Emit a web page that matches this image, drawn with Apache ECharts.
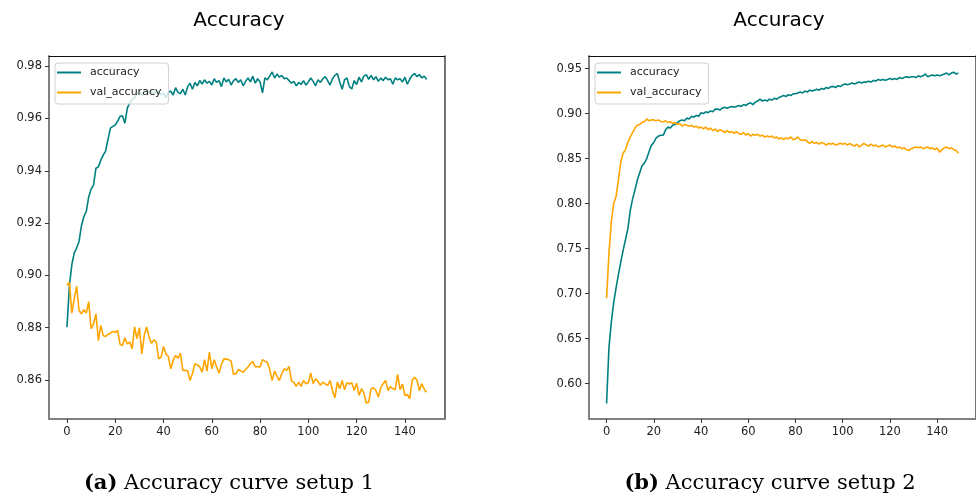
<!DOCTYPE html>
<html><head><meta charset="utf-8">
<script src="https://cdn.jsdelivr.net/npm/echarts@6/dist/echarts.min.js"></script>
<style>html,body{margin:0;padding:0;background:#fff}#c{width:976px;height:500px}</style>
</head><body><div id="c"></div>
<script>
const xTicks = [0, 20, 40, 60, 80, 100, 120, 140];
const yTicks1 = [0.86, 0.88, 0.90, 0.92, 0.94, 0.96, 0.98];
const yTicks2 = [0.60, 0.65, 0.70, 0.75, 0.80, 0.85, 0.90, 0.95];
const seriesNames = ['accuracy', 'val_accuracy'];
const titles = ['Accuracy', 'Accuracy'];
const captions = [['(a)', ' Accuracy curve setup 1'], ['(b)', ' Accuracy curve setup 2']];

const acc1 = [0.8802,0.8960,0.9040,0.9085,0.9105,0.9130,0.9190,0.9225,0.9245,0.9300,
0.9330,0.9345,0.9410,0.9415,0.9440,0.9460,0.9475,0.9520,0.9563,0.9570,
0.9575,0.9590,0.9608,0.9610,0.9582,0.9640,0.9660,0.9672,0.9680,0.9695,
0.9700,0.9688,0.9705,0.9712,0.9698,0.9705,0.9690,0.9708,0.9702,0.9690,
0.9698,0.9680,0.9700,0.9705,0.9690,0.9718,0.9700,0.9695,0.9712,0.9690,
0.9722,0.9735,0.9712,0.9738,0.9725,0.9745,0.9732,0.9748,0.9735,0.9742,
0.9728,0.9752,0.9738,0.9745,0.9722,0.9755,0.9740,0.9750,0.9728,0.9745,
0.9752,0.9738,0.9748,0.9725,0.9742,0.9755,0.9740,0.9762,0.9735,0.9752,
0.9740,0.9698,0.9755,0.9748,0.9762,0.9778,0.9755,0.9770,0.9758,0.9765,
0.9752,0.9755,0.9745,0.9735,0.9742,0.9725,0.9738,0.9730,0.9745,0.9728,
0.9740,0.9755,0.9742,0.9725,0.9748,0.9738,0.9752,0.9760,0.9745,0.9728,
0.9752,0.9765,0.9772,0.9740,0.9712,0.9748,0.9755,0.9722,0.9713,0.9745,
0.9730,0.9758,0.9740,0.9762,0.9768,0.9750,0.9765,0.9748,0.9760,0.9742,
0.9755,0.9745,0.9758,0.9748,0.9752,0.9731,0.9755,0.9748,0.9752,0.9740,
0.9758,0.9731,0.9750,0.9765,0.9772,0.9760,0.9768,0.9755,0.9762,0.9749];

const val1 = [0.8962,0.8974,0.8856,0.8910,0.8958,0.8866,0.8853,0.8869,0.8856,0.8900,
0.8796,0.8815,0.8853,0.8751,0.8809,0.8770,0.8766,0.8775,0.8779,0.8786,
0.8782,0.8790,0.8736,0.8732,0.8762,0.8738,0.8745,0.8720,0.8803,0.8758,
0.8800,0.8700,0.8770,0.8803,0.8765,0.8740,0.8754,0.8745,0.8681,0.8688,
0.8728,0.8700,0.8690,0.8643,0.8675,0.8694,0.8683,0.8703,0.8637,0.8637,
0.8635,0.8598,0.8625,0.8662,0.8658,0.8650,0.8630,0.8678,0.8634,0.8707,
0.8643,0.8678,0.8650,0.8627,0.8660,0.8681,0.8680,0.8678,0.8672,0.8622,
0.8624,0.8640,0.8635,0.8630,0.8640,0.8650,0.8662,0.8672,0.8650,0.8652,
0.8650,0.8678,0.8672,0.8668,0.8640,0.8598,0.8634,0.8615,0.8598,0.8625,
0.8643,0.8637,0.8652,0.8598,0.8590,0.8576,0.8592,0.8576,0.8598,0.8586,
0.8590,0.8627,0.8586,0.8605,0.8595,0.8580,0.8592,0.8585,0.8580,0.8598,
0.8560,0.8532,0.8592,0.8567,0.8598,0.8563,0.8590,0.8585,0.8590,0.8560,
0.8588,0.8541,0.8567,0.8550,0.8512,0.8515,0.8567,0.8570,0.8560,0.8535,
0.8570,0.8586,0.8598,0.8560,0.8575,0.8567,0.8563,0.8622,0.8563,0.8585,
0.8541,0.8545,0.8528,0.8598,0.8611,0.8600,0.8559,0.8586,0.8565,0.8553];

const acc2 = [0.578,0.640,0.668,0.690,0.706,0.721,0.735,0.748,0.760,0.772,
0.792,0.805,0.815,0.826,0.834,0.842,0.845,0.850,0.858,0.865,
0.868,0.873,0.875,0.876,0.876,0.882,0.885,0.884,0.887,0.888,
0.890,0.892,0.893,0.892,0.895,0.894,0.897,0.896,0.898,0.897,
0.901,0.900,0.902,0.901,0.903,0.902,0.905,0.905,0.904,0.906,
0.907,0.906,0.907,0.908,0.907,0.908,0.909,0.908,0.910,0.909,
0.911,0.912,0.910,0.913,0.914,0.916,0.914,0.915,0.914,0.916,
0.915,0.917,0.916,0.918,0.919,0.920,0.919,0.921,0.920,0.922,
0.922,0.923,0.924,0.923,0.925,0.924,0.926,0.925,0.926,0.927,
0.926,0.928,0.927,0.929,0.928,0.930,0.930,0.929,0.931,0.930,
0.932,0.933,0.932,0.933,0.934,0.933,0.934,0.935,0.934,0.935,
0.935,0.936,0.935,0.937,0.936,0.938,0.937,0.938,0.937,0.938,
0.939,0.938,0.939,0.938,0.940,0.939,0.940,0.941,0.940,0.941,
0.941,0.940,0.942,0.941,0.942,0.944,0.941,0.942,0.943,0.942,
0.943,0.942,0.943,0.944,0.945,0.943,0.945,0.946,0.944,0.945];

const val2 = [0.695,0.745,0.780,0.800,0.808,0.826,0.846,0.856,0.860,0.868,
0.874,0.879,0.884,0.887,0.888,0.890,0.891,0.894,0.892,0.893,
0.893,0.892,0.893,0.891,0.891,0.892,0.890,0.891,0.889,0.890,
0.888,0.889,0.886,0.888,0.887,0.886,0.887,0.885,0.886,0.884,
0.885,0.883,0.885,0.882,0.884,0.881,0.883,0.880,0.882,0.881,
0.879,0.881,0.879,0.880,0.878,0.880,0.878,0.877,0.879,0.876,
0.878,0.875,0.877,0.876,0.877,0.875,0.876,0.874,0.875,0.874,
0.875,0.873,0.874,0.872,0.873,0.871,0.873,0.872,0.874,0.871,
0.872,0.874,0.871,0.870,0.871,0.869,0.867,0.869,0.867,0.868,
0.866,0.868,0.867,0.865,0.867,0.866,0.867,0.865,0.866,0.867,
0.866,0.867,0.865,0.867,0.865,0.864,0.866,0.863,0.865,0.867,
0.865,0.864,0.866,0.864,0.865,0.863,0.864,0.865,0.863,0.864,
0.865,0.863,0.864,0.862,0.863,0.861,0.862,0.860,0.859,0.861,
0.862,0.863,0.862,0.863,0.861,0.862,0.863,0.861,0.862,0.860,
0.862,0.857,0.860,0.862,0.863,0.861,0.862,0.860,0.859,0.856];

const COLORS = ['#008080', '#ffa500'];
const FONT = 'DejaVu Sans';
const pairs = arr => arr.map((v, i) => [i, v]);

const panels = [
  {left: 49, ymin: 0.8451, ymax: 0.9839, yTicks: yTicks1, data: [acc1, val1], titleX: 239, capX: 229},
  {left: 589, ymin: 0.5607, ymax: 0.9640, yTicks: yTicks2, data: [acc2, val2], titleX: 779, capX: 770}
];
const XMIN = -7.45, XMAX = 156.45;

const grid = [], xAxis = [], yAxis = [], series = [], legend = [], graphic = [];
panels.forEach((p, k) => {
  grid.push({left: p.left, top: 56, width: 395.6, height: 363, containLabel: false});
  const labelStyle = {fontFamily: FONT, fontSize: 11.5, color: '#222'};
  xAxis.push({
    gridIndex: k, type: 'value', min: XMIN, max: XMAX, position: 'bottom',
    axisLine: {show: true, onZero: false, lineStyle: {color: '#808080', width: 2}},
    axisTick: {show: true, customValues: xTicks, length: 4, lineStyle: {color: '#333', width: 1}},
    axisLabel: Object.assign({customValues: xTicks, margin: 7, formatter: v => String(v)}, labelStyle),
    splitLine: {show: false}
  });
  xAxis.push({
    gridIndex: k, type: 'value', min: XMIN, max: XMAX, position: 'top',
    axisLine: {show: true, onZero: false, lineStyle: {color: '#111', width: 1}},
    axisTick: {show: false}, axisLabel: {show: false}, splitLine: {show: false}
  });
  yAxis.push({
    gridIndex: k, type: 'value', min: p.ymin, max: p.ymax, position: 'left',
    axisLine: {show: true, onZero: false, lineStyle: {color: '#808080', width: 2}},
    axisTick: {show: true, customValues: p.yTicks, length: 4, lineStyle: {color: '#333', width: 1}},
    axisLabel: Object.assign({customValues: p.yTicks, margin: 7, formatter: v => v.toFixed(2)}, labelStyle),
    splitLine: {show: false}
  });
  yAxis.push({
    gridIndex: k, type: 'value', min: p.ymin, max: p.ymax, position: 'right',
    axisLine: {show: true, onZero: false, lineStyle: {color: '#444', width: 1.5}},
    axisTick: {show: false}, axisLabel: {show: false}, splitLine: {show: false}
  });
  p.data.forEach((arr, j) => {
    series.push({
      name: seriesNames[j], type: 'line', xAxisIndex: 2 * k, yAxisIndex: 2 * k,
      data: pairs(arr), showSymbol: false, symbol: 'none',
      lineStyle: {color: COLORS[j], width: 1.6}, itemStyle: {color: COLORS[j]},
      z: 2 + j
    });
  });
  legend.push({
    data: seriesNames, orient: 'vertical', left: p.left + 6, top: 63,
    icon: 'rect', itemWidth: 24, itemHeight: 2, itemGap: 9,
    padding: [4, 7, 6, 2], borderColor: '#d0d0d0', borderWidth: 1, borderRadius: 3,
    backgroundColor: 'rgba(255,255,255,0.8)', selectedMode: false,
    textStyle: {fontFamily: FONT, fontSize: 11, color: '#222', padding: [0, 0, 0, 4]}
  });
  graphic.push({
    type: 'text', x: p.titleX, y: 21,
    style: {text: titles[k], font: '20px "DejaVu Sans"', fill: '#000', align: 'center', verticalAlign: 'middle', textAlign: 'center', textVerticalAlign: 'middle'}
  });
  graphic.push({
    type: 'text', x: p.capX, y: 484,
    style: {
      text: '{b|' + captions[k][0] + '}{r|' + captions[k][1] + '}',
      rich: {
        b: {fontFamily: 'DejaVu Serif', fontSize: 21, fontWeight: 'bold', fill: '#000', color: '#000'},
        r: {fontFamily: 'DejaVu Serif', fontSize: 21, fill: '#000', color: '#000'}
      },
      align: 'center', verticalAlign: 'middle', textAlign: 'center', textVerticalAlign: 'middle'
    }
  });
});

const chart = echarts.init(document.getElementById('c'), null, {renderer: 'canvas'});
chart.setOption({
  animation: false, backgroundColor: '#fff',
  grid, xAxis, yAxis, series, legend, graphic
});
</script></body></html>
